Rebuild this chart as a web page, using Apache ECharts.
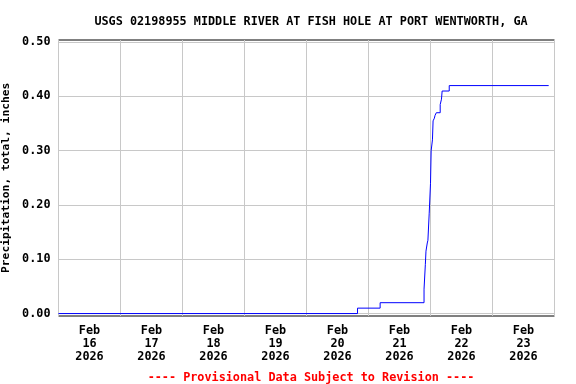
<!DOCTYPE html>
<html><head><meta charset="utf-8">
<script src="https://cdn.jsdelivr.net/npm/echarts@6/dist/echarts.min.js"></script>
<style>html,body{margin:0;padding:0;background:#fff}#c{width:576px;height:384px}</style>
</head><body><div id="c"></div>
<script>
var title = "USGS 02198955 MIDDLE RIVER AT FISH HOLE AT PORT WENTWORTH, GA";
var yName = "Precipitation, total, inches";
var footer = "---- Provisional Data Subject to Revision ----";
var dayLabels = ["Feb\n16\n2026","Feb\n17\n2026","Feb\n18\n2026","Feb\n19\n2026","Feb\n20\n2026","Feb\n21\n2026","Feb\n22\n2026","Feb\n23\n2026"];
var times = ["2026-02-16T00:00","2026-02-20T19:45","2026-02-21T04:30","2026-02-21T21:30","2026-02-21T22:00","2026-02-21T22:15","2026-02-21T22:45","2026-02-21T23:00","2026-02-21T23:30","2026-02-22T00:00","2026-02-22T00:15","2026-02-22T00:45","2026-02-22T01:00","2026-02-22T01:30","2026-02-22T01:45","2026-02-22T02:15","2026-02-22T03:45","2026-02-22T04:15","2026-02-22T04:30","2026-02-22T07:15","2026-02-23T21:45"];
var values = [0,0.01,0.02,0.045,0.09,0.115,0.13,0.135,0.185,0.24,0.30,0.32,0.355,0.36,0.365,0.37,0.385,0.395,0.41,0.42,0.42];
var xStart = "2026-02-16T00:00", xEnd = "2026-02-24T00:00";

function ts(s){ return new Date(s + ":00").getTime(); }
var data = times.map(function(t,i){ return [ts(t), values[i]]; });
var F = "'DejaVu Sans Mono', monospace";
var chart = echarts.init(document.getElementById('c'));
chart.setOption({
  animation:false,
  title:[{text:title,left:306,top:11,textAlign:'center',textStyle:{fontFamily:F,fontSize:11.8,fontWeight:'bold',color:'#000'}},
         {text:footer,left:306,top:367,textAlign:'center',textStyle:{fontFamily:F,fontSize:11.8,fontWeight:'bold',color:'#ff0000'}}],
  grid:[{left:58.5,right:21.5,top:40,bottom:68,show:true,borderColor:'#000',borderWidth:1,backgroundColor:'transparent',outerBoundsMode:'none'},
        {left:58.5,right:21.5,top:42,bottom:70.4,outerBoundsMode:'none'}],
  xAxis:[
    {type:'time',gridIndex:0,min:ts(xStart),max:ts(xEnd),interval:86400000,axisLine:{show:false,onZero:false},axisTick:{show:false},axisLabel:{show:false},splitLine:{show:true,lineStyle:{color:'#c8c8c8',width:1}}},
    {type:'category',gridIndex:0,data:dayLabels,boundaryGap:true,position:'bottom',axisLine:{show:false,onZero:false},axisTick:{show:false},splitLine:{show:false},
     axisLabel:{margin:8,fontFamily:F,fontSize:11.8,fontWeight:'bold',color:'#000',lineHeight:13,interval:0}},
    {type:'value',gridIndex:1,min:0,max:1,show:false,axisLine:{onZero:false}}
  ],
  yAxis:[
    {type:'value',gridIndex:0,min:-0.0045,max:0.504,show:false,splitLine:{show:false},axisLine:{onZero:false}},
    {type:'value',gridIndex:1,min:0,max:0.5,interval:0.1,position:'left',axisLine:{show:false,onZero:false},axisTick:{show:false},
     splitLine:{show:true,lineStyle:{color:'#c8c8c8',width:1}},
     axisLabel:{margin:8,align:'right',fontFamily:F,fontSize:11.8,fontWeight:'bold',color:'#000',formatter:function(v){return v.toFixed(2);}},
     name:yName,nameLocation:'middle',nameGap:47,nameMoveOverlap:false,nameTextStyle:{fontFamily:F,fontSize:11.3,fontWeight:'bold',color:'#000'}}
  ],
  series:[{type:'line',xAxisIndex:0,yAxisIndex:0,data:data,step:'end',showSymbol:false,symbol:'none',lineStyle:{color:'#0000ff',width:1},z:5}]
});
</script></body></html>
